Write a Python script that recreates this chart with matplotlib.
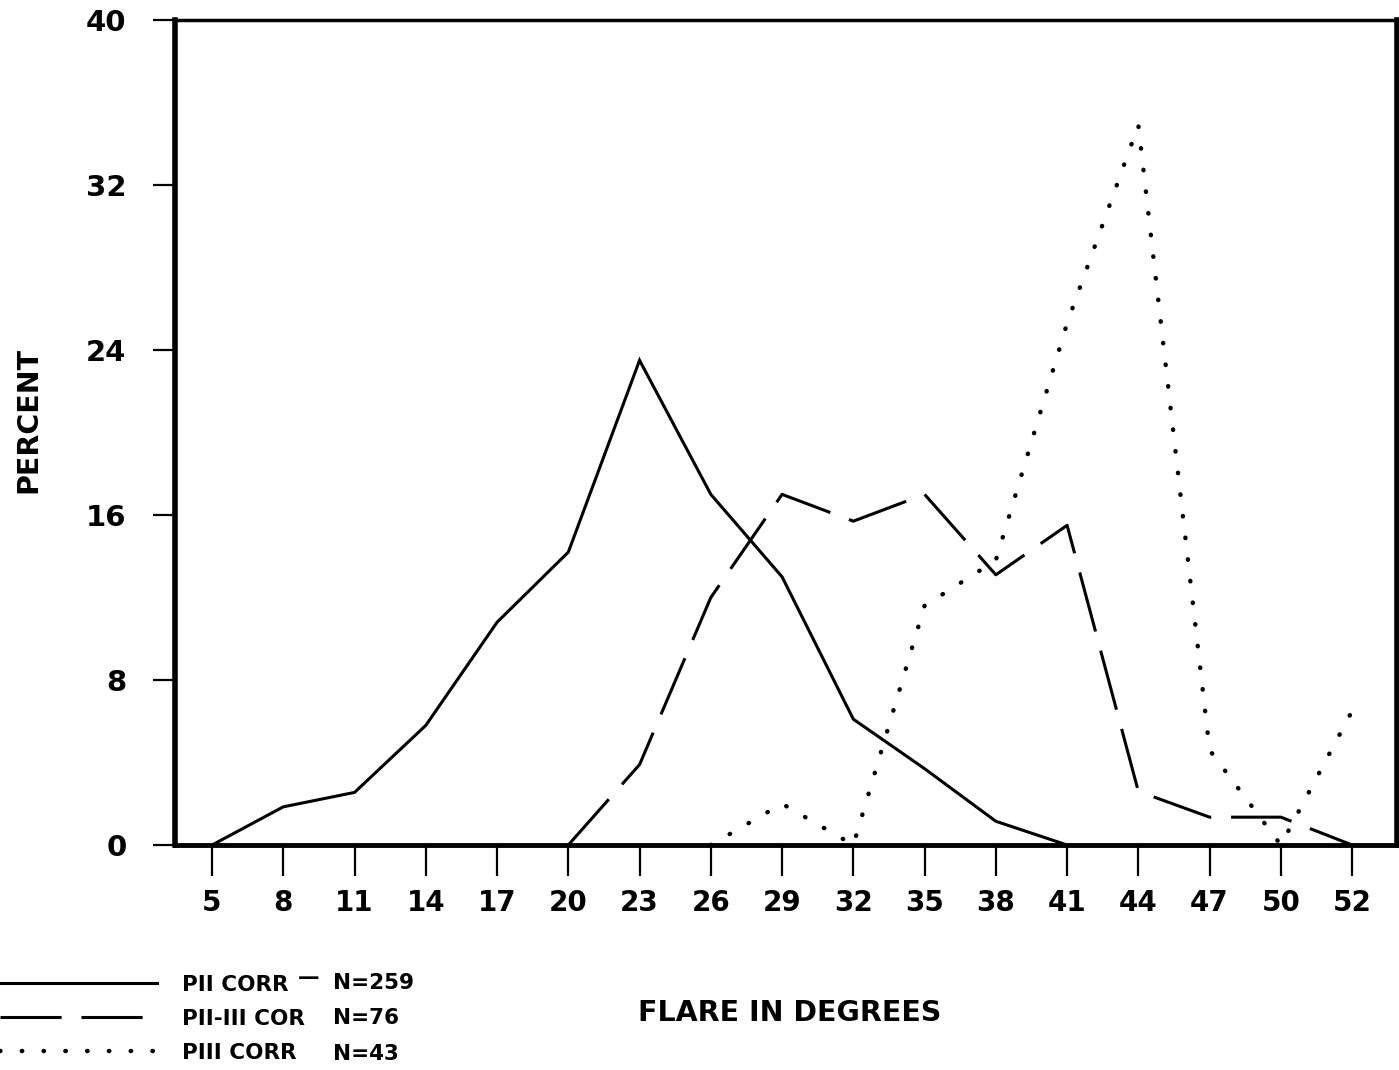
import numpy as np
import matplotlib
matplotlib.use("Agg")
import matplotlib.pyplot as plt

# flare categories (equally spaced on the axis)
degrees = ['5', '8', '11', '14', '17', '20', '23', '26', '29',
           '32', '35', '38', '41', '44', '47', '50', '52']
nan = np.nan
# percent per flare class
pii_corr = [0, 1.85, 2.55, 5.8, 10.8, 14.2, 23.5, 17.0, 13.0,
            6.1, 3.7, 1.15, 0, nan, nan, nan, nan]
pii_iii_cor = [nan, nan, nan, nan, nan, 0, 3.9, 12.0, 17.0,
               15.7, 17.0, 13.1, 15.5, 2.6, 1.35, 1.35, 0]
piii_corr = [nan, nan, nan, nan, nan, nan, nan, 0, 2.0,
             0, 11.6, 13.8, 25.3, 34.9, 4.6, 0, 6.5]
series_names = ['PII CORR', 'PII-III COR', 'PIII CORR']
series_n = ['N=259', 'N=76', 'N=43']
yticks = [0, 8, 16, 24, 32, 40]

W, H = 1399, 1070
fig = plt.figure(figsize=(W / 100, H / 100), dpi=100)
ax = fig.add_axes([175 / W, 1 - 845 / H, (1397 - 175) / W, (845 - 20) / H])

x = np.arange(len(degrees))
l1, = ax.plot(x, pii_corr, color='black', lw=2.2, solid_joinstyle='miter')
l2, = ax.plot(x, pii_iii_cor, color='black', lw=2.2, linestyle=(0, (20, 6.5)))
l3, = ax.plot(x, piii_corr, color='black', lw=3.2, linestyle=(0, (0.1, 4.8)),
              dash_capstyle='round')

ax.set_xlim(-0.52, 16.63)
ax.set_ylim(0, 40)
ax.set_xticks(x)
ax.set_xticklabels(degrees, fontsize=20, fontweight='bold')
ax.set_yticks(yticks)
ax.set_yticklabels([str(v) for v in yticks], fontsize=21, fontweight='bold')
ax.tick_params(axis='x', direction='out', length=22, width=1.6, pad=10)
ax.tick_params(axis='y', direction='out', length=16, width=1.6, pad=19)

for side, w in [('left', 4), ('bottom', 3.5), ('right', 4), ('top', 2.5)]:
    ax.spines[side].set_linewidth(w)

lab_font = dict(family='DejaVu Sans', weight='bold', size=20.5)
fig.text(28 / W, 1 - 420 / H, 'PERCENT', rotation=90, ha='center', va='center', **lab_font)
fig.text(790 / W, 1 - 1013 / H, 'FLARE IN DEGREES', ha='center', va='center', **lab_font)

leg_font = dict(family='DejaVu Sans', weight='bold', size=15.5)
leg = ax.legend([l1, l2, l3], series_names, loc='upper left',
                bbox_to_anchor=(0, 1 - 975 / H), bbox_transform=fig.transFigure,
                frameon=False, borderpad=0, borderaxespad=0,
                handlelength=7.3, handletextpad=1.15, labelspacing=0.65,
                prop=leg_font)

row_y = [983, 1018, 1054]
for n, yy in zip(series_n, row_y):
    fig.text(333 / W, 1 - yy / H, n, ha='left', va='center', **leg_font)
fig.text(298 / W, 1 - 978 / H, '\u2014', ha='left', va='center', **leg_font)

fig.savefig('out.png', dpi=100)
